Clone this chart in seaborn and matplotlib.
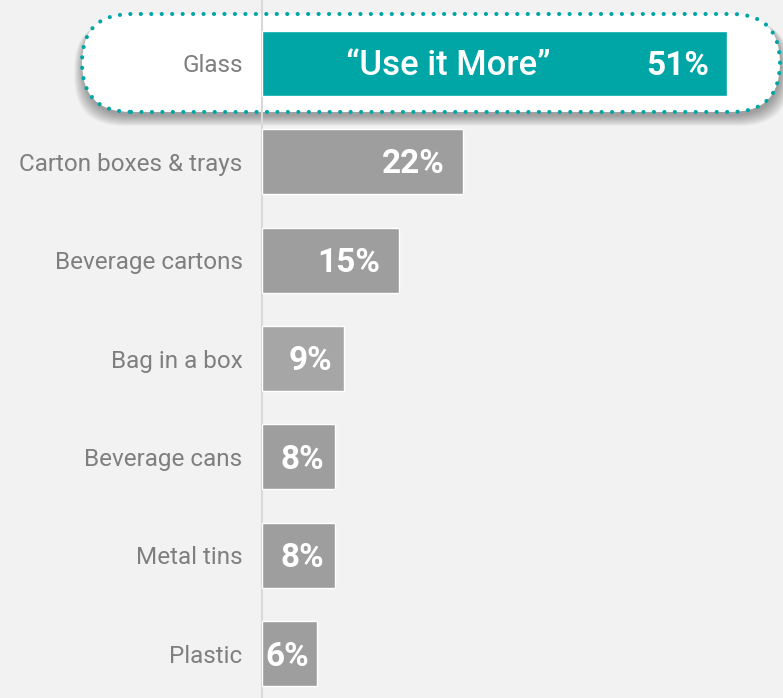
import matplotlib

matplotlib.use("Agg")
import matplotlib.pyplot as plt
import matplotlib.patches as mpatches
import matplotlib.transforms as mtransforms
import pandas as pd
import seaborn as sns

# Data
categories = [
    "Glass",
    "Carton boxes & trays",
    "Beverage cartons",
    "Bag in a box",
    "Beverage cans",
    "Metal tins",
    "Plastic",
]
shares = [51, 22, 15, 9, 8, 8, 6]
bar_colors = ["#00a6a6", "#9e9e9e", "#9e9e9e", "#a6a6a6", "#9e9e9e", "#9e9e9e", "#9e9e9e"]
highlight_text = "\u201cUse it More\u201d"

df = pd.DataFrame({"category": categories, "share": shares})

sns.set_style("white")
plt.rcParams["font.family"] = ["Roboto", "DejaVu Sans"]

fig = plt.figure(figsize=(7.83, 6.98), dpi=100, facecolor="#f2f2f2")
ax = fig.add_axes([262 / 783, 0, 1 - 262 / 783, 1])
ax.set_facecolor("#f2f2f2")

sns.barplot(
    data=df,
    x="share",
    y="category",
    hue="category",
    palette=bar_colors,
    orient="h",
    width=0.66,
    legend=False,
    saturation=1,
    ax=ax,
)

ax.set_xlim(0, 57.1)
ax.set_ylim(6.447, -0.64)

# Highlight box around the first row (pixel coords).
ident = mtransforms.IdentityTransform()
bx, by, bw, bh = 82, 698 - 112, 698, 98
for i in range(12):
    shadow = mpatches.FancyBboxPatch(
        (bx + 1 - i * 0.8, by - 4 - i * 0.9),
        bw + i * 1.6,
        bh + i * 0.7,
        boxstyle="round,pad=0,rounding_size=49",
        transform=ident,
        facecolor="#000000",
        edgecolor="none",
        alpha=0.03,
        clip_on=False,
        zorder=0.3,
    )
    ax.add_patch(shadow)
box = mpatches.FancyBboxPatch(
    (bx, by),
    bw,
    bh,
    boxstyle="round,pad=0,rounding_size=49",
    transform=ident,
    facecolor="#ffffff",
    edgecolor="#00a6a6",
    linewidth=3.0,
    linestyle=(0, (0.01, 2.5)),
    capstyle="round",
    clip_on=False,
    zorder=0.5,
)
ax.add_patch(box)

# Value labels.
for i, v in enumerate(shares):
    pad = min(2.0, 0.15 * v)
    ax.text(
        v - pad,
        i + 0.03,
        "{}%".format(v),
        ha="right",
        va="center",
        color="#ffffff",
        fontsize=24,
        fontweight="bold",
        zorder=3,
    )

ax.text(
    20.4,
    0.03,
    highlight_text,
    ha="center",
    va="center",
    color="#ffffff",
    fontsize=25,
    fontweight="medium",
    zorder=3,
)

for side in ["top", "right", "bottom"]:
    ax.spines[side].set_visible(False)
ax.spines["left"].set_color("#d9d9d9")
ax.spines["left"].set_linewidth(1.5)
ax.spines["left"].set_zorder(0.8)

ax.set_xlabel("")
ax.set_ylabel("")
ax.set_xticks([])
ax.tick_params(axis="y", length=0, pad=14)
for lbl in ax.get_yticklabels():
    lbl.set_color("#7f7f7f")
    lbl.set_fontsize(17.5)

fig.savefig("out.png", dpi=100, facecolor=fig.get_facecolor())
plt.close()
